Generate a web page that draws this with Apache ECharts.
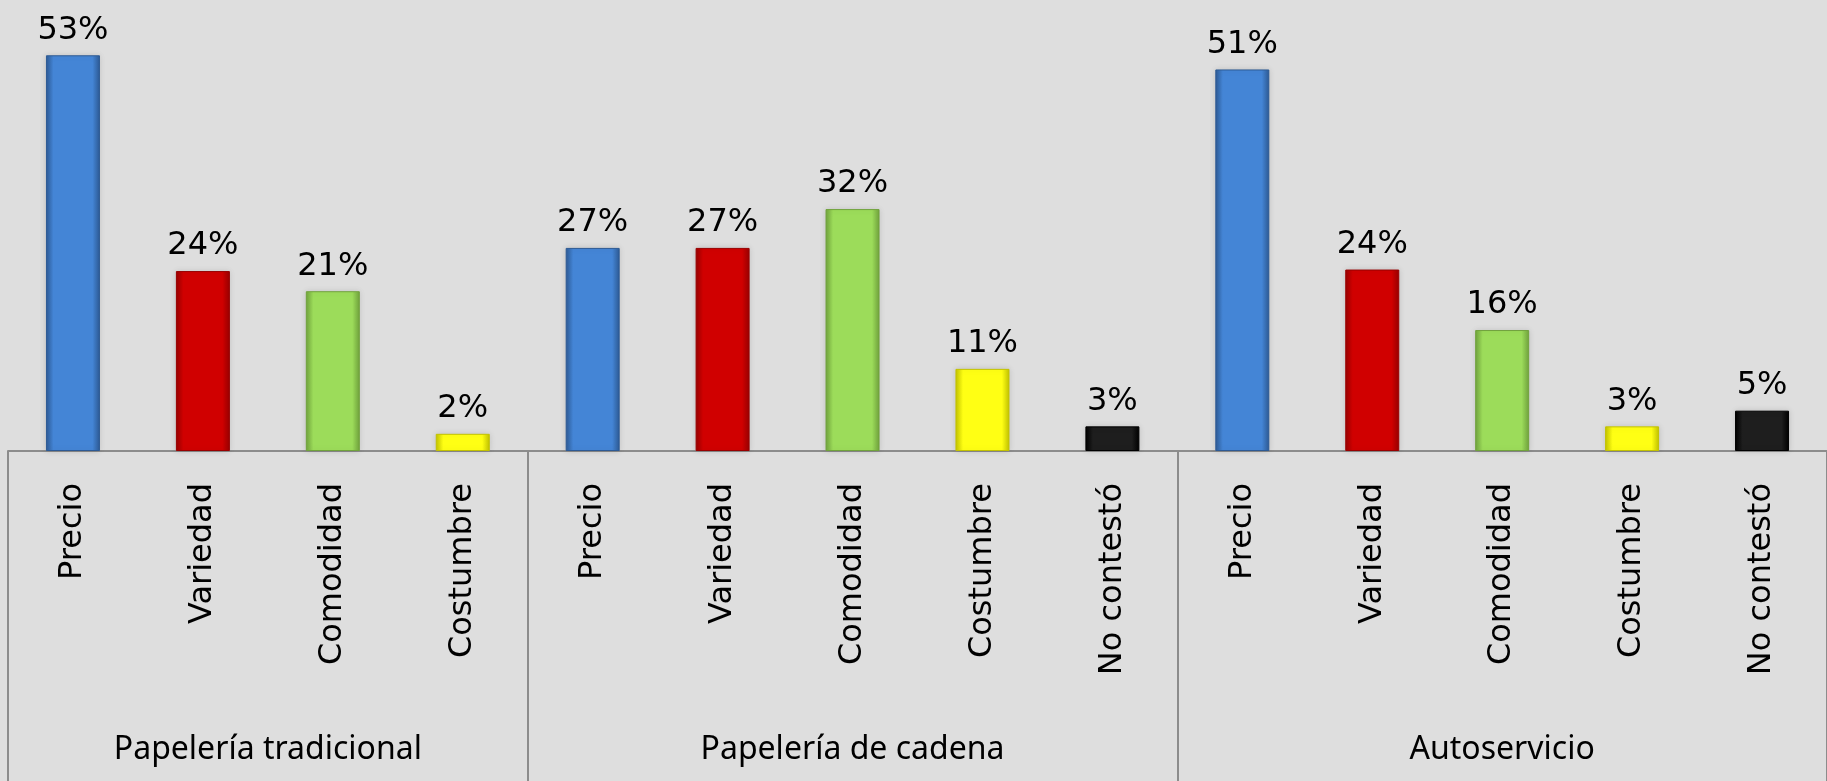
<!DOCTYPE html>
<html>
<head>
<meta charset="utf-8">
<script src="https://cdn.jsdelivr.net/npm/echarts@6/dist/echarts.min.js"></script>
<style>
  html, body { margin: 0; padding: 0; background: #dedede; }
  #main { width: 1827px; height: 781px; }
</style>
</head>
<body>
<div id="main"></div>
<script>
const categories = [
  'Precio', 'Variedad', 'Comodidad', 'Costumbre',
  'Precio', 'Variedad', 'Comodidad', 'Costumbre', 'No contestó',
  'Precio', 'Variedad', 'Comodidad', 'Costumbre', 'No contestó'
]
const values = [
  53, 24.1, 21.4, 2.3,
  27.2, 27.2, 32.4, 11, 3.3,
  51.1, 24.3, 16.2, 3.3, 5.4
]
const groupNames = ['Papelería tradicional', 'Papelería de cadena', 'Autoservicio']
const groupSizes = [4, 5, 5]

// colores tipo bisel: [borde oscuro, centro claro]
const palette = {
  'Precio': ['#2d5a94', '#4485d6'],
  'Variedad': ['#980000', '#d00000'],
  'Comodidad': ['#70a23c', '#9cdc5a'],
  'Costumbre': ['#c2c200', '#ffff14'],
  'No contestó': ['#000000', '#1e1e1e']
}

const verdana = '"DejaVu Sans", Verdana, sans-serif'

// limites y centros de los grupos
const bounds = [0]
groupSizes.forEach(s => bounds.push(bounds[bounds.length - 1] + s))
const centers = groupSizes.map((s, i) => bounds[i] + s / 2)

function barStyle(name) {
  const [dark, light] = palette[name]
  return {
    color: {
      type: 'linear', x: 0, y: 0, x2: 1, y2: 0,
      colorStops: [
        { offset: 0, color: dark },
        { offset: 0.14, color: light },
        { offset: 0.86, color: light },
        { offset: 1, color: dark }
      ]
    },
    borderColor: dark,
    borderWidth: 1,
    shadowColor: 'rgba(0,0,0,0.12)',
    shadowBlur: 6
  }
}

const myChart = echarts.init(document.getElementById('main'))

myChart.setOption({
  backgroundColor: '#dedede',
  animation: false,
  grid: { left: 8, right: 0, top: 3, bottom: 330 },
  xAxis: [
    {
      type: 'category',
      data: categories,
      axisLine: { lineStyle: { color: '#8c8c8c', width: 2 } },
      axisTick: { show: false },
      axisLabel: {
        interval: 0,
        rotate: 90,
        margin: 32,
        color: '#000',
        fontFamily: verdana,
        fontSize: 32
      }
    },
    {
      type: 'value',
      min: 0,
      max: 14,
      position: 'bottom',
      axisLine: { show: false },
      splitLine: { show: false },
      axisTick: {
        show: true,
        customValues: bounds,
        length: 330,
        lineStyle: { color: '#8c8c8c', width: 2 }
      },
      axisLabel: {
        customValues: centers,
        formatter: v => groupNames[centers.indexOf(v)],
        margin: 283,
        color: '#000',
        fontFamily: 'Noto Sans',
        fontSize: 32
      }
    }
  ],
  yAxis: { type: 'value', min: 0, max: 60, show: false },
  series: [{
    type: 'bar',
    barWidth: 54,
    data: values.map((v, i) => ({ value: v, itemStyle: barStyle(categories[i]) })),
    label: {
      show: true,
      position: 'top',
      distance: 9,
      formatter: p => Math.round(p.value) + '%',
      color: '#000',
      fontFamily: verdana,
      fontSize: 32
    }
  }]
})
</script>
</body>
</html>
